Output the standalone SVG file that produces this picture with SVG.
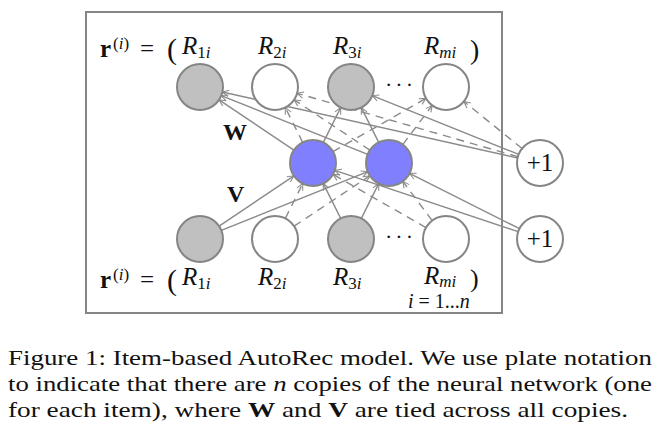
<svg xmlns="http://www.w3.org/2000/svg" width="657" height="431" viewBox="0 0 657 431">
<defs>
<style>
.n{stroke:#858585;stroke-width:2}
.obs{fill:#c0c0c0}
.un{fill:#ffffff}
.hid{fill:#8080ff}
.e{stroke:#8a8a8a;stroke-width:1.4;fill:none;marker-end:url(#ah)}
.d{stroke-dasharray:8,6}
.t{font-family:"Liberation Serif","DejaVu Serif",serif;fill:#111}
.m{font-family:"Liberation Serif","DejaVu Serif",serif;font-style:italic;fill:#111}
</style>
<marker id="ah" viewBox="0 0 10 10" refX="9" refY="5" markerWidth="8" markerHeight="8" markerUnits="userSpaceOnUse" orient="auto">
<path d="M1,1 L9,5 L1,9" fill="none" stroke="#8a8a8a" stroke-width="1.3" stroke-dasharray="none"/>
</marker>
</defs>
<rect width="657" height="431" fill="#ffffff"/>
<rect id="plate" x="86" y="12" width="416" height="301" fill="none" stroke="#858585" stroke-width="2"/>

<g id="connectors">
<line class="e" x1="293.9" y1="150.2" x2="219.1" y2="99.8"/>
<line class="e d" x1="302.7" y1="142.4" x2="285.3" y2="107.6"/>
<line class="e" x1="323.3" y1="142.4" x2="340.7" y2="107.6"/>
<line class="e d" x1="333.0" y1="151.6" x2="426.0" y2="98.4"/>
<line class="e" x1="367.7" y1="154.4" x2="221.3" y2="95.6"/>
<line class="e d" x1="369.9" y1="150.2" x2="294.1" y2="99.8"/>
<line class="e" x1="378.7" y1="142.4" x2="361.3" y2="107.6"/>
<line class="e d" x1="402.8" y1="144.6" x2="432.2" y2="105.4"/>
<line class="e" x1="517.6" y1="158.0" x2="222.4" y2="92.0"/>
<line class="e d" x1="517.9" y1="156.7" x2="297.1" y2="93.3"/>
<line class="e" x1="518.7" y1="154.4" x2="372.3" y2="95.6"/>
<line class="e d" x1="522.1" y1="148.5" x2="463.9" y2="101.5"/>
<line class="e" x1="219.1" y1="226.2" x2="293.9" y2="175.8"/>
<line class="e" x1="221.3" y1="230.4" x2="367.7" y2="171.6"/>
<line class="e d" x1="285.3" y1="218.4" x2="302.7" y2="183.6"/>
<line class="e d" x1="294.1" y1="226.2" x2="369.9" y2="175.8"/>
<line class="e" x1="340.7" y1="218.4" x2="323.3" y2="183.6"/>
<line class="e" x1="361.3" y1="218.4" x2="378.7" y2="183.6"/>
<line class="e d" x1="426.0" y1="227.6" x2="333.0" y2="174.4"/>
<line class="e d" x1="432.2" y1="220.6" x2="402.8" y2="181.4"/>
<line class="e" x1="518.2" y1="231.7" x2="334.8" y2="170.3"/>
<line class="e" x1="519.5" y1="228.7" x2="409.5" y2="173.3"/>
</g>

<g id="out1"><circle class="n obs" cx="200" cy="87" r="23"/></g>
<g id="out2"><circle class="n un" cx="275" cy="87" r="23"/></g>
<g id="out3"><circle class="n obs" cx="351" cy="87" r="23"/></g>
<g id="outm"><circle class="n un" cx="446" cy="87" r="23"/></g>
<g id="hid1"><circle class="n hid" cx="313" cy="163" r="23"/></g>
<g id="hid2"><circle class="n hid" cx="389" cy="163" r="23"/></g>
<g id="in1"><circle class="n obs" cx="200" cy="239" r="23"/></g>
<g id="in2"><circle class="n un" cx="275" cy="239" r="23"/></g>
<g id="in3"><circle class="n obs" cx="351" cy="239" r="23"/></g>
<g id="inm"><circle class="n un" cx="446" cy="239" r="23"/></g>
<g id="bias1"><circle class="n un" cx="540" cy="163" r="23"/><text class="t" x="540" y="171" font-size="25" text-anchor="middle">+1</text></g>
<g id="bias2"><circle class="n un" cx="540" cy="239" r="23"/><text class="t" x="540" y="247" font-size="25" text-anchor="middle">+1</text></g>

<g id="labels" font-size="25">
<text class="t" x="100" y="57"><tspan font-weight="bold">r</tspan><tspan x="113" y="49" font-size="17">(</tspan><tspan font-size="17" font-style="italic">i</tspan><tspan font-size="17">)</tspan><tspan x="140" y="57">=</tspan><tspan x="167" y="59" font-size="30">(</tspan></text>
<text class="m" x="182" y="54">R<tspan font-size="17" dy="4" font-style="normal">1</tspan><tspan font-size="17">i</tspan></text>
<text class="m" x="258" y="54">R<tspan font-size="17" dy="4" font-style="normal">2</tspan><tspan font-size="17">i</tspan></text>
<text class="m" x="333" y="54">R<tspan font-size="17" dy="4" font-style="normal">3</tspan><tspan font-size="17">i</tspan></text>
<text class="m" x="424" y="54">R<tspan font-size="17" dy="4">mi</tspan></text>
<text class="t" x="470" y="59" font-size="28">)</text>
<text class="t" x="385" y="92" font-size="22" letter-spacing="3">···</text>
<text class="t" x="223" y="140" font-weight="bold" font-size="24">W</text>
<text class="t" x="227" y="202" font-weight="bold" font-size="24">V</text>
<text class="t" x="100" y="288"><tspan font-weight="bold">r</tspan><tspan x="113" y="280" font-size="17">(</tspan><tspan font-size="17" font-style="italic">i</tspan><tspan font-size="17">)</tspan><tspan x="140" y="288">=</tspan><tspan x="167" y="290" font-size="30">(</tspan></text>
<text class="m" x="182" y="285">R<tspan font-size="17" dy="4" font-style="normal">1</tspan><tspan font-size="17">i</tspan></text>
<text class="m" x="258" y="285">R<tspan font-size="17" dy="4" font-style="normal">2</tspan><tspan font-size="17">i</tspan></text>
<text class="m" x="333" y="285">R<tspan font-size="17" dy="4" font-style="normal">3</tspan><tspan font-size="17">i</tspan></text>
<text class="m" x="424" y="284">R<tspan font-size="17" dy="3">mi</tspan></text>
<text class="t" x="470" y="287" font-size="26">)</text>
<text class="t" x="385" y="244" font-size="22" letter-spacing="3">···</text>
<text class="t" x="408" y="308" font-size="20"><tspan font-style="italic">i</tspan> = 1...<tspan font-style="italic">n</tspan></text>
</g>

<g id="caption" font-size="22">
<text class="t" x="8" y="365" textLength="644" lengthAdjust="spacingAndGlyphs">Figure 1: Item-based AutoRec model.  We use plate notation</text>
<text class="t" x="8" y="391" textLength="644" lengthAdjust="spacingAndGlyphs">to indicate that there are <tspan font-style="italic">n</tspan> copies of the neural network (one</text>
<text class="t" x="8" y="417" textLength="620" lengthAdjust="spacingAndGlyphs">for each item), where <tspan font-weight="bold">W</tspan> and <tspan font-weight="bold">V</tspan> are tied across all copies.</text>
</g>
</svg>
